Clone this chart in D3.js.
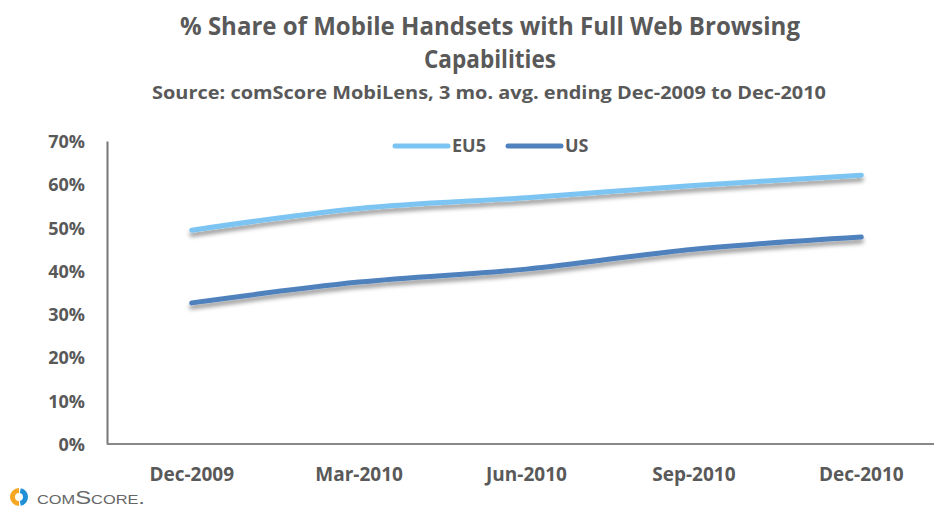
<!DOCTYPE html>
<html>
<head>
<meta charset="utf-8">
<script src="https://cdn.jsdelivr.net/npm/d3@7"></script>
<style>
  body { margin: 0; background: #fff; }
  text { font-family: "Open Sans", sans-serif; font-weight: bold; fill: #595959; }
</style>
</head>
<body>
<div id="chart"></div>
<script>
// data
var months = ["Dec-2009", "Mar-2010", "Jun-2010", "Sep-2010", "Dec-2010"];
var eu5 = [49.4, 54.4, 56.9, 59.7, 62.1];
var us = [32.6, 37.4, 40.4, 45.0, 47.8];
var yTicks = [0, 10, 20, 30, 40, 50, 60, 70];
var seriesNames = ["EU5", "US"];
var seriesColors = ["#7cc4f1", "#4f81bd"];

var width = 934, height = 507;
var svg = d3.select("#chart").append("svg")
    .attr("width", width)
    .attr("height", height);

// shadow under the lines
var defs = svg.append("defs");
var filter = defs.append("filter").attr("id", "shadow")
    .attr("x", "-10%").attr("y", "-50%").attr("width", "120%").attr("height", "200%");
filter.append("feDropShadow")
    .attr("dx", 0).attr("dy", 4)
    .attr("stdDeviation", 2)
    .attr("flood-color", "#000")
    .attr("flood-opacity", 0.4);

// titles
svg.append("text").attr("x", 490).attr("y", 35).attr("text-anchor", "middle")
    .style("font-size", "25px").attr("textLength", 620).attr("lengthAdjust", "spacingAndGlyphs")
    .text("% Share of Mobile Handsets with Full Web Browsing");
svg.append("text").attr("x", 490).attr("y", 68).attr("text-anchor", "middle")
    .style("font-size", "25px").attr("textLength", 132).attr("lengthAdjust", "spacingAndGlyphs")
    .text("Capabilities");
svg.append("text").attr("x", 489).attr("y", 99).attr("text-anchor", "middle")
    .style("font-size", "17px").attr("textLength", 674).attr("lengthAdjust", "spacingAndGlyphs")
    .text("Source: comScore MobiLens, 3 mo. avg. ending Dec-2009 to Dec-2010");

// scales
var x = d3.scaleBand().domain(months).range([108, 945]);
var y = d3.scaleLinear().domain([0, 70]).range([444, 141]);

// y axis
var yAxis = svg.append("g")
    .attr("transform", "translate(107,0)")
    .call(d3.axisLeft(y).tickValues(yTicks).tickSize(0).tickPadding(22)
        .tickFormat(function (d) { return d + "%"; }));
yAxis.select(".domain").attr("stroke", "#777").attr("stroke-width", 2);
yAxis.selectAll("text").style("font-size", "18px").attr("dy", "0.36em");

// x axis
var xAxis = svg.append("g")
    .attr("transform", "translate(0,444)")
    .call(d3.axisBottom(x).tickSize(0).tickPadding(24));
xAxis.select(".domain").attr("d", "M107,0H934").attr("stroke", "#888").attr("stroke-width", 2);
xAxis.selectAll("text").style("font-size", "19px");

// lines
var line = d3.line()
    .x(function (d, i) { return x(months[i]) + x.bandwidth() / 2; })
    .y(function (d) { return y(d); })
    .curve(d3.curveCatmullRom.alpha(0.5));

[eu5, us].forEach(function (vals, k) {
    svg.append("path")
        .datum(vals)
        .attr("d", line)
        .attr("fill", "none")
        .attr("stroke", seriesColors[k])
        .attr("stroke-width", 5)
        .attr("stroke-linecap", "round")
        .attr("filter", "url(#shadow)");
});

// legend
var legend = svg.append("g").attr("transform", "translate(395,146)");
var legendX = [0, 113];
seriesNames.forEach(function (name, k) {
    var g = legend.append("g").attr("transform", "translate(" + legendX[k] + ",0)");
    g.append("line").attr("x1", 0).attr("x2", 53).attr("y1", 0).attr("y2", 0)
        .attr("stroke", seriesColors[k]).attr("stroke-width", 5).attr("stroke-linecap", "round");
    g.append("text").attr("x", 57).attr("y", 6).style("font-size", "18px").text(name);
});

// comScore logo
var logo = svg.append("g").attr("transform", "translate(19,497)");
logo.append("path").attr("d", d3.arc()({innerRadius: 4, outerRadius: 9, startAngle: Math.PI, endAngle: 2 * Math.PI}))
    .attr("fill", "#f5a623");
logo.append("path").attr("d", d3.arc()({innerRadius: 4, outerRadius: 9, startAngle: 0.2, endAngle: Math.PI - 0.2}))
    .attr("fill", "#1f8fd6");
logo.append("text").attr("x", 18).attr("y", 7)
    .style("font-size", "19px").style("font-weight", "normal").style("fill", "#666")
    .style("font-variant", "small-caps")
    .style("font-family", "'Liberation Sans', sans-serif")
    .attr("textLength", 108).attr("lengthAdjust", "spacingAndGlyphs")
    .text("comScore.");
</script>
</body>
</html>
